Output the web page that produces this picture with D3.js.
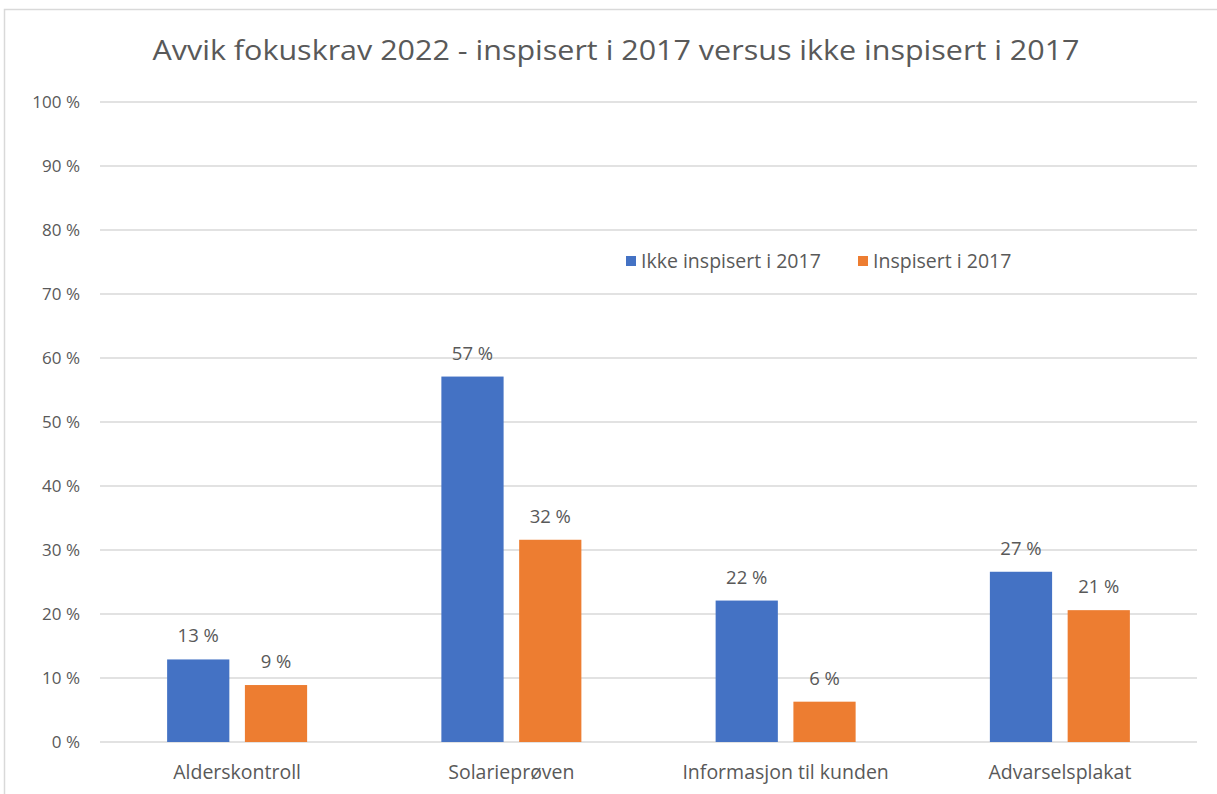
<!DOCTYPE html>
<html>
<head>
<meta charset="utf-8">
<script src="https://cdn.jsdelivr.net/npm/d3@7"></script>
<style>
  body { margin: 0; background: #fff; }
  svg text { font-family: "Open Sans", Lato, sans-serif; fill: #595959; }
</style>
</head>
<body>
<svg id="chart" width="1217" height="794"></svg>
<script>
var categories = ["Alderskontroll", "Solarieprøven", "Informasjon til kunden", "Advarselsplakat"];
var seriesNames = ["Ikke inspisert i 2017", "Inspisert i 2017"];
var ikkeInspisert = [12.9, 57.1, 22.1, 26.6];
var inspisert = [8.9, 31.6, 6.3, 20.6];
var yTicks = [0, 10, 20, 30, 40, 50, 60, 70, 80, 90, 100];
var colors = ["#4472C4", "#ED7D31"];

(function () {
var svg = d3.select("#chart");

// outer frame of the chart area
svg.append("path")
  .attr("d", "M4.5,794 V9.5 H1217")
  .attr("fill", "none")
  .attr("stroke", "#d9d9d9")
  .attr("stroke-width", 1.5);

var plotLeft = 100, plotRight = 1197, plotTop = 102, plotBottom = 742;

var y = d3.scaleLinear().domain([0, 100]).range([plotBottom, plotTop]);
var x = d3.scaleBand().domain(categories).range([plotLeft, plotRight]).padding(0);
var xs = d3.scaleBand().domain(seriesNames).range([0, 140]).paddingInner(0.2);
var offset = (x.bandwidth() - 140) / 2;

// gridlines
svg.append("g").selectAll("line")
  .data(yTicks).enter().append("line")
  .attr("x1", plotLeft).attr("x2", plotRight)
  .attr("y1", function (d) { return y(d); })
  .attr("y2", function (d) { return y(d); })
  .attr("stroke", "#d9d9d9")
  .attr("stroke-width", 1.5);

// y tick labels
svg.append("g").selectAll("text")
  .data(yTicks).enter().append("text")
  .attr("x", 80)
  .attr("y", function (d) { return y(d); })
  .attr("dy", "0.35em")
  .attr("text-anchor", "end")
  .attr("font-size", 17)
  .text(function (d) { return d + " %"; });

// bars
var rows = categories.map(function (c, i) {
  return { cat: c, vals: [ikkeInspisert[i], inspisert[i]] };
});

var groups = svg.append("g").selectAll("g")
  .data(rows).enter().append("g")
  .attr("transform", function (d) { return "translate(" + (x(d.cat) + offset) + ",0)"; });

groups.selectAll("rect")
  .data(function (d) { return d.vals.map(function (v, j) { return { s: seriesNames[j], v: v, j: j }; }); })
  .enter().append("rect")
  .attr("x", function (d) { return xs(d.s); })
  .attr("width", xs.bandwidth())
  .attr("y", function (d) { return y(d.v); })
  .attr("height", function (d) { return plotBottom - y(d.v); })
  .attr("fill", function (d) { return colors[d.j]; });

groups.selectAll("text")
  .data(function (d) { return d.vals.map(function (v, j) { return { s: seriesNames[j], v: v }; }); })
  .enter().append("text")
  .attr("x", function (d) { return xs(d.s) + xs.bandwidth() / 2; })
  .attr("y", function (d) { return y(d.v) - 17; })
  .attr("text-anchor", "middle")
  .attr("font-size", 18.5)
  .text(function (d) { return Math.round(d.v) + " %"; });

// category labels
svg.append("g").selectAll("text")
  .data(categories).enter().append("text")
  .attr("x", function (d) { return x(d) + x.bandwidth() / 2; })
  .attr("y", 779)
  .attr("text-anchor", "middle")
  .attr("font-size", 19.5)
  .text(function (d) { return d; });

// title
svg.append("text")
  .attr("x", 616)
  .attr("y", 60)
  .attr("text-anchor", "middle")
  .attr("font-size", 27)
  .attr("textLength", 927)
  .attr("lengthAdjust", "spacingAndGlyphs")
  .text("Avvik fokuskrav 2022 - inspisert i 2017 versus ikke inspisert i 2017");

// legend
var legendX = [626, 858];
var legend = svg.append("g").selectAll("g")
  .data(seriesNames).enter().append("g")
  .attr("transform", function (d, i) { return "translate(" + legendX[i] + ",256)"; });
legend.append("rect")
  .attr("width", 10).attr("height", 10)
  .attr("fill", function (d, i) { return colors[i]; });
legend.append("text")
  .attr("x", 15).attr("y", 5)
  .attr("dy", "0.35em")
  .attr("font-size", 19.5)
  .text(function (d) { return d; });
})();
</script>
</body>
</html>
